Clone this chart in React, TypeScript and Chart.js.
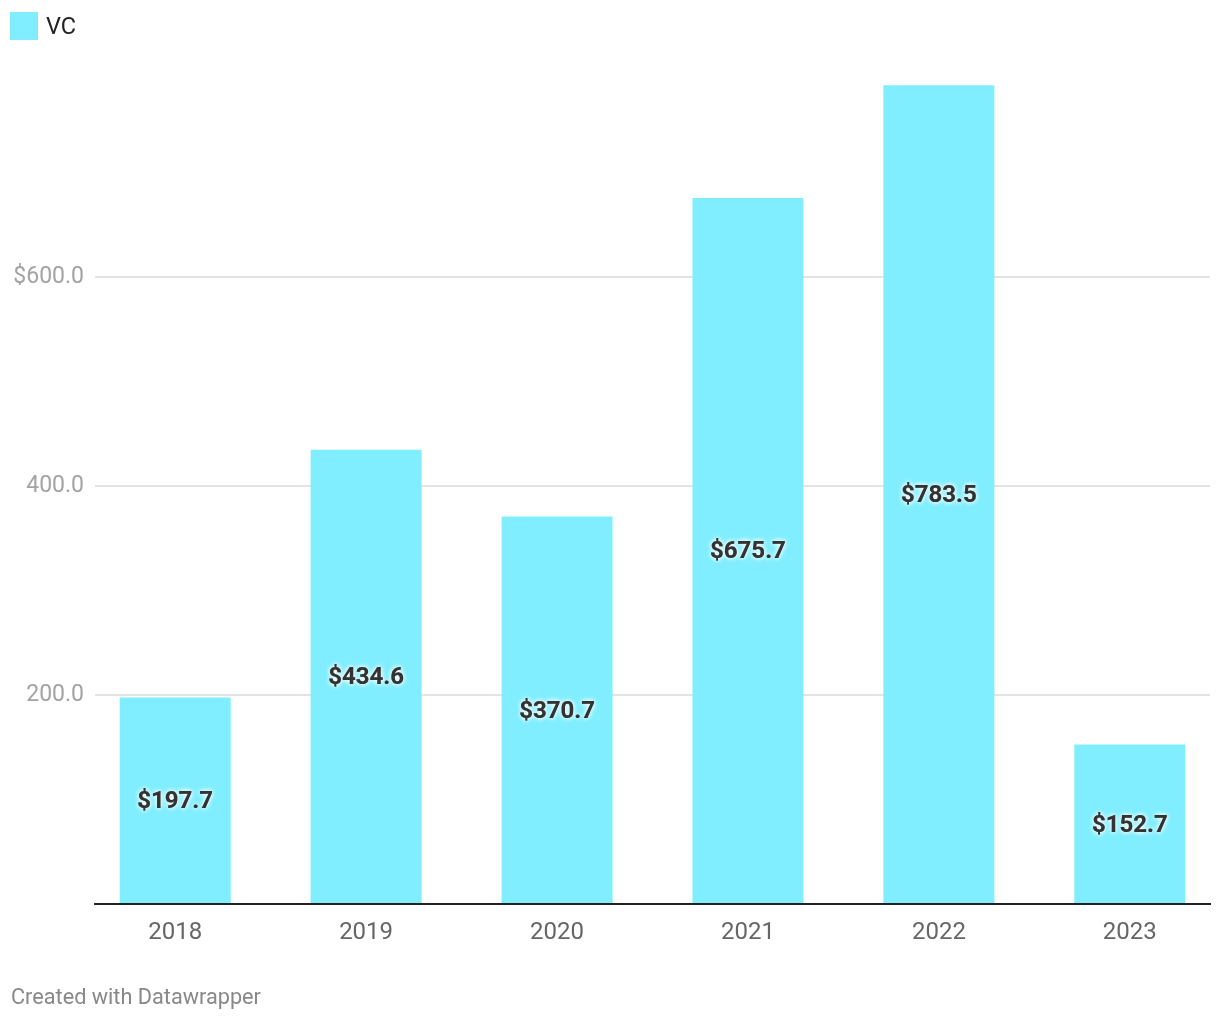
import React, { useEffect, useRef } from "react";
import { Chart, registerables } from "chart.js";

Chart.register(...registerables);

const years = ["2018", "2019", "2020", "2021", "2022", "2023"];
const vcValues = [197.7, 434.6, 370.7, 675.7, 783.5, 152.7];
const valueLabels = ["$197.7", "$434.6", "$370.7", "$675.7", "$783.5", "$152.7"];
const yTickValues = [0, 200, 400, 600];
const yTickLabels = ["", "200.0", "400.0", "$600.0"];
const seriesName = "VC";
const barColor = "#80eefe";
const FONT = "Roboto, 'Noto Sans', sans-serif";

const valueLabelPlugin = {
  id: "valueLabels",
  afterDatasetsDraw(chart: any) {
    const ctx = chart.ctx;
    const meta = chart.getDatasetMeta(0);
    ctx.save();
    ctx.font = `bold 24px ${FONT}`;
    ctx.textAlign = "center";
    ctx.textBaseline = "middle";
    meta.data.forEach((bar: any, i: number) => {
      const x = bar.x;
      const y = (bar.y + bar.base) / 2 + 2;
      ctx.shadowColor = "rgba(255,255,255,1)";
      ctx.shadowBlur = 5;
      ctx.fillStyle = "#333333";
      ctx.fillText(valueLabels[i], x, y);
      ctx.fillText(valueLabels[i], x, y);
    });
    ctx.restore();
  },
};

export default function App() {
  const ref = useRef<HTMLCanvasElement>(null);

  useEffect(() => {
    if (!ref.current) return;
    const chart = new Chart(ref.current, {
      type: "bar",
      data: {
        datasets: [
          {
            label: seriesName,
            data: vcValues.map((v, i) => ({ x: i, y: v })),
            backgroundColor: barColor,
            borderWidth: 0,
            barPercentage: 1,
            categoryPercentage: 0.5814,
          },
        ],
      },
      options: {
        responsive: false,
        animation: false,
        layout: { padding: { left: 0, right: 10, top: 68, bottom: 66 } },
        plugins: {
          legend: { display: false },
          tooltip: { enabled: false },
        },
        scales: {
          x: {
            type: "linear",
            offset: false,
            min: -0.42,
            max: 5.42,
            afterBuildTicks: (scale: any) => {
              scale.ticks = years.map((_, i) => ({ value: i }));
            },
            afterFit: (scale: any) => {
              scale.height = 50;
            },
            grid: { display: false, drawTicks: false, offset: false },
            border: { display: true, color: "#222222", width: 2 },
            ticks: {
              padding: 15,
              color: "#666666",
              font: { family: FONT, size: 24 },
              maxRotation: 0,
              autoSkip: false,
              callback: (v: any) => years[Math.round(Number(v))] ?? "",
            },
          },
          y: {
            type: "linear",
            min: 0,
            max: 800,
            afterBuildTicks: (scale: any) => {
              scale.ticks = yTickValues.map((v) => ({ value: v }));
            },
            afterFit: (scale: any) => {
              scale.width = 95;
            },
            grid: {
              drawTicks: false,
              lineWidth: 2,
              color: (c: any) => (c.tick && c.tick.value === 0 ? "rgba(0,0,0,0)" : "#e4e4e4"),
            },
            border: { display: false },
            ticks: {
              padding: 11,
              color: "#a3a3a3",
              font: { family: FONT, size: 23 },
              callback: (v: any) => {
                const idx = yTickValues.indexOf(Number(v));
                return idx >= 0 ? yTickLabels[idx] : "";
              },
            },
          },
        },
      },
      plugins: [valueLabelPlugin],
    } as any);
    return () => chart.destroy();
  }, []);

  return (
    <div
      style={{
        position: "fixed",
        left: 0,
        top: 0,
        width: 1220,
        height: 1020,
        background: "#ffffff",
        fontFamily: FONT,
      }}
    >
      <canvas ref={ref} width={1220} height={1020} style={{ position: "absolute", left: 0, top: 0 }} />
      <div
        style={{
          position: "absolute",
          left: 10,
          top: 12,
          display: "flex",
          alignItems: "center",
          height: 28,
        }}
      >
        <span style={{ display: "inline-block", width: 28, height: 28, background: barColor }} />
        <span style={{ marginLeft: 8, fontSize: 23.5, color: "#222222", lineHeight: "28px" }}>{seriesName}</span>
      </div>
      <div
        style={{
          position: "absolute",
          left: 11,
          top: 984,
          fontSize: 21.7,
          color: "#888888",
          lineHeight: "26px",
        }}
      >
        Created with Datawrapper
      </div>
    </div>
  );
}
